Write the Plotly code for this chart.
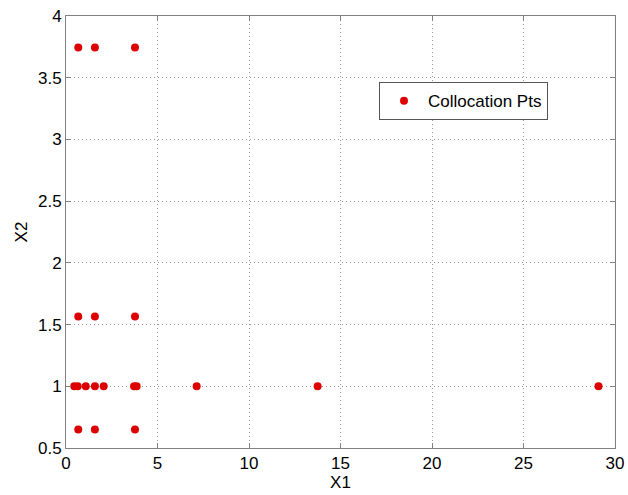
import plotly.graph_objects as go

x1 = [0.45, 0.64, 1.08, 1.58, 2.06, 3.72, 3.86, 7.14, 13.75, 29.1,
      0.67, 1.58, 3.77,
      0.67, 1.58, 3.77,
      0.67, 1.58, 3.77]
x2 = [1.0, 1.0, 1.0, 1.0, 1.0, 1.0, 1.0, 1.0, 1.0, 1.0,
      0.65, 0.65, 0.65,
      1.565, 1.565, 1.565,
      3.745, 3.745, 3.745]

xticks = [0, 5, 10, 15, 20, 25, 30]
yticks = [0.5, 1, 1.5, 2, 2.5, 3, 3.5, 4]

fnt = "Liberation Sans, Arial, sans-serif"

fig = go.Figure()
fig.add_trace(go.Scatter(
    x=x1, y=x2, mode="markers", name="Collocation Pts",
    marker=dict(color="#dd0000", size=8, line=dict(width=0)),
))

axis_common = dict(
    showgrid=True, gridcolor="#999999", griddash="1px,3px", gridwidth=1,
    showline=True, linecolor="#808080", linewidth=1, mirror="ticks",
    ticks="inside", ticklen=5, tickcolor="#808080",
    zeroline=False, automargin=False,
    tickfont=dict(family=fnt, size=17, color="black"),
)

fig.update_xaxes(range=[0, 30], tickvals=xticks, ticktext=[str(v) for v in xticks],
                 title=dict(text="X1", font=dict(family=fnt, size=17, color="black"), standoff=3),
                 **axis_common)
fig.update_yaxes(range=[0.5, 4], tickvals=yticks, ticktext=[("%g" % v) for v in yticks],
                 title=dict(text="X2", font=dict(family=fnt, size=17, color="black"), standoff=6),
                 **axis_common)

fig.update_layout(
    width=628, height=495,
    margin=dict(l=66, r=13, t=16, b=47),
    paper_bgcolor="white", plot_bgcolor="white",
    showlegend=True,
    legend=dict(
        x=(379 - 66) / 549, y=0.847, xanchor="left", yanchor="top",
        bgcolor="white", bordercolor="#555555", borderwidth=1,
        font=dict(family=fnt, size=17, color="black"),
        itemwidth=38, entrywidth=178, entrywidthmode="pixels",
    ),
)

fig.write_html("out.html")
